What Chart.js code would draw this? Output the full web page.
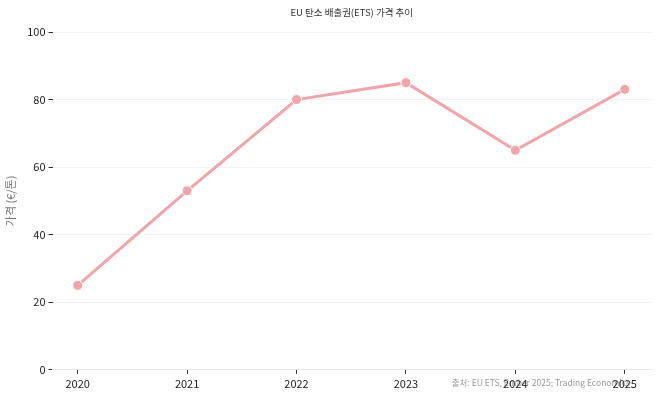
<!DOCTYPE html>
<html>
<head>
<meta charset="utf-8">
<script src="https://cdn.jsdelivr.net/npm/chart.js@4"></script>
<style>
  html, body { margin: 0; padding: 0; background: #fff; }
  #wrap { width: 658px; height: 395px; }
</style>
</head>
<body>
<div id="wrap"><canvas id="c"></canvas></div>
<script>
const years = [2020, 2021, 2022, 2023, 2024, 2025]
const prices = [25, 53, 80, 85, 65, 83]
const yTicks = [0, 20, 40, 60, 80, 100]

const font = "'Noto Sans CJK KR', 'Noto Sans', sans-serif"

// title centred on the plot area; source note goes under the x labels like the original
const texts = {
  id: 'texts',
  beforeDraw(chart) {
    const ctx = chart.ctx
    const a = chart.chartArea
    ctx.save()
    ctx.font = "9.5px " + font
    ctx.fillStyle = '#333'
    ctx.textAlign = 'center'
    ctx.textBaseline = 'middle'
    ctx.fillText('EU 탄소 배출권(ETS) 가격 추이', (a.left + a.right) / 2, 12)
    ctx.font = "8.5px " + font
    ctx.fillStyle = '#9a9a9a'
    ctx.textAlign = 'right'
    ctx.fillText('출처: EU ETS, Ember 2025; Trading Economics', 630, 383)
    ctx.restore()
  }
}

new Chart(document.getElementById('c').getContext('2d'), {
  type: 'line',
  data: {
    datasets: [{
      data: years.map((y, i) => ({ x: y, y: prices[i] })),
      borderColor: '#f0a5ab',
      backgroundColor: '#f0a5ab',
      borderWidth: 3,
      pointRadius: 5,
      pointBorderColor: '#ffffff',
      pointBorderWidth: 1,
      tension: 0
    }]
  },
  options: {
    responsive: true,
    maintainAspectRatio: false,
    animation: false,
    layout: { padding: { left: 4, right: 7, top: 32, bottom: 2 } },
    plugins: {
      legend: { display: false },
      tooltip: { enabled: false },
      title: { display: false }
    },
    scales: {
      x: {
        type: 'linear',
        min: 2019.77,
        max: 2025.24,
        afterBuildTicks: scale => { scale.ticks = years.map(v => ({ value: v })) },
        ticks: {
          color: '#222',
          font: { family: font, size: 11 },
          padding: 3,
          callback: v => String(v)
        },
        grid: { display: true, drawOnChartArea: false, tickLength: 4, color: '#333' },
        border: { display: true, color: '#e6e6e6' }
      },
      y: {
        min: 0,
        max: 100,
        afterBuildTicks: scale => { scale.ticks = yTicks.map(v => ({ value: v })) },
        ticks: {
          color: '#222',
          font: { family: font, size: 11 },
          padding: 3
        },
        grid: {
          color: '#f2f2f2',
          tickColor: '#333',
          tickLength: 4,
          tickWidth: 1
        },
        border: { display: false },
        title: {
          display: true,
          text: '가격 (€/톤)',
          color: '#777',
          font: { family: font, size: 11 },
          padding: { top: 0, bottom: 7 }
        }
      }
    }
  },
  plugins: [texts]
})
</script>
</body>
</html>
